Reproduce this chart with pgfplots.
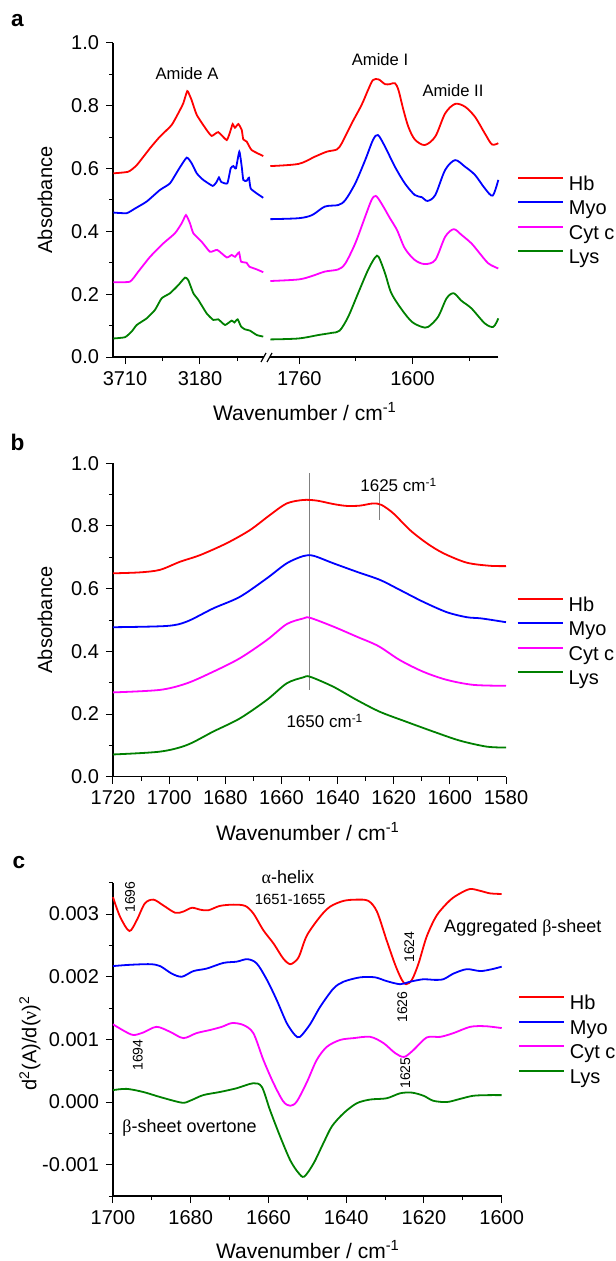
\documentclass[border=0pt]{standalone}
\usepackage{fontspec}
\setmainfont{Liberation Sans}
\newfontfamily\grk{Liberation Serif}
\usepackage{pgfplots}
\pgfplotsset{compat=1.18}
\definecolor{cHb}{RGB}{255,0,0}
\definecolor{cMyo}{RGB}{0,0,255}
\definecolor{cCyt}{RGB}{255,0,255}
\definecolor{cLys}{RGB}{0,128,0}
\newcommand{\fs}[1]{\fontsize{#1}{#1}\selectfont}
\pgfplotsset{
  myax/.style={
    scale only axis, clip=false,
    tick align=outside,
    major tick length=3.5pt, minor tick length=2pt,
    every tick/.style={black, line width=0.5pt},
    axis line style={-, black, line width=0.6pt},
    tick label style={font=\fs{10}},
    /pgf/number format/assume math mode=true,
    every axis plot/.append style={line width=0.9pt},
  },
  myleg/.style={
    legend style={draw=none, fill=none, font=\fs{10}, inner sep=0pt, outer sep=0pt,
      row sep=3.05pt, nodes={inner sep=0pt, text height=7.2pt, text depth=2pt},
      at={#1}, anchor=north west},
    legend cell align=left,
    legend image code/.code={\draw[##1, line width=1pt] (0pt,3.6pt) -- (22.5pt,3.6pt); \path (25pt,3.6pt);},
  },
}
\begin{document}
\begin{tikzpicture}
\useasboundingbox (0,0) rectangle (307.5pt,-630.5pt);
% ---------------- panel a, left segment ----------------
\begin{axis}[myax, at={(56.5pt,-178.5pt)}, anchor=south west,
  width=75.5pt, height=157pt,
  xmin=2727.7, xmax=3794.8, x dir=reverse, ymin=0, ymax=1,
  axis x line*=bottom, axis y line*=left,
  xtick={3710,3180}, minor xtick={3445,2915},
  ytick={0,0.2,0.4,0.6,0.8,1}, minor ytick={0.1,0.3,0.5,0.7,0.9},
  yticklabel style={/pgf/number format/fixed, /pgf/number format/fixed zerofill, /pgf/number format/precision=1},
  xticklabel style={/pgf/number format/1000 sep={}},
]
\addplot[cHb, smooth, tension=0.3] coordinates {(3792,0.585) (3687,0.590) (3627,0.611) (3533,0.665) (3463,0.702) (3380,0.739) (3321,0.787) (3298,0.808) (3270,0.847) (3251,0.831) (3239,0.818) (3203,0.771) (3133,0.723) (3097,0.704) (3051,0.716) (2991,0.691) (2963,0.723) (2949,0.742) (2933,0.730) (2909,0.742) (2885,0.723) (2874,0.693) (2850,0.686) (2815,0.659) (2733,0.640)};
\addplot[cMyo, smooth, tension=0.3] coordinates {(3792,0.460) (3698,0.458) (3639,0.473) (3557,0.495) (3463,0.532) (3392,0.553) (3333,0.596) (3274,0.635) (3239,0.617) (3203,0.585) (3157,0.564) (3090,0.545) (3062,0.558) (3046,0.572) (3031,0.558) (2987,0.553) (2963,0.601) (2944,0.608) (2926,0.601) (2902,0.654) (2885,0.606) (2874,0.564) (2850,0.561) (2834,0.571) (2822,0.537) (2779,0.521) (2733,0.507)};
\addplot[cCyt, smooth, tension=0.3] coordinates {(3792,0.238) (3675,0.240) (3616,0.272) (3533,0.319) (3439,0.362) (3357,0.394) (3309,0.426) (3279,0.452) (3251,0.426) (3227,0.394) (3168,0.367) (3109,0.335) (3058,0.341) (2991,0.317) (2956,0.325) (2933,0.319) (2904,0.333) (2890,0.304) (2850,0.300) (2832,0.288) (2779,0.279) (2733,0.270)};
\addplot[cLys, smooth, tension=0.3] coordinates {(3792,0.059) (3710,0.063) (3663,0.081) (3627,0.102) (3557,0.123) (3498,0.150) (3451,0.187) (3392,0.203) (3333,0.229) (3286,0.253) (3263,0.245) (3227,0.203) (3192,0.182) (3133,0.139) (3086,0.118) (3051,0.120) (3003,0.102) (2956,0.116) (2937,0.110) (2914,0.120) (2890,0.097) (2862,0.088) (2827,0.084) (2779,0.070) (2733,0.065)};
\node[font=\fs{8.3}] at (axis cs:3272,0.904) {Amide A};
\end{axis}
% ---------------- panel a, right segment ----------------
\begin{axis}[myax, at={(135pt,-178.5pt)}, anchor=south west,
  width=114.15pt, height=157pt,
  xmin=1479, xmax=1801.4, x dir=reverse, ymin=0, ymax=1,
  axis x line*=bottom, axis y line=none, ytick=\empty,
  xtick={1760,1600}, minor xtick={1680,1520},
  xticklabel style={/pgf/number format/1000 sep={}},
  myleg={(1.0819,0.577)},
]
\addplot[cHb, smooth] coordinates {(1801,0.608) (1761,0.615) (1738,0.638) (1721,0.654) (1707,0.661) (1700,0.681) (1686,0.744) (1672,0.803) (1663,0.850) (1656,0.882) (1648,0.884) (1639,0.869) (1632,0.869) (1625,0.872) (1620,0.850) (1613,0.787) (1606,0.733) (1597,0.693) (1583,0.675) (1568,0.702) (1554,0.776) (1540,0.806) (1526,0.797) (1512,0.765) (1498,0.712) (1488,0.677) (1479,0.681)};
\addlegendentry{Hb}
\addplot[cMyo, smooth] coordinates {(1801,0.439) (1761,0.442) (1742,0.452) (1724,0.479) (1705,0.484) (1695,0.500) (1681,0.553) (1667,0.627) (1656,0.691) (1649,0.707) (1639,0.670) (1625,0.606) (1611,0.553) (1597,0.516) (1587,0.509) (1579,0.497) (1568,0.516) (1554,0.596) (1540,0.627) (1526,0.606) (1512,0.580) (1498,0.537) (1487,0.514) (1479,0.564)};
\addlegendentry{Myo}
\addplot[cCyt, smooth] coordinates {(1801,0.242) (1761,0.247) (1742,0.258) (1724,0.272) (1705,0.279) (1695,0.298) (1681,0.362) (1667,0.447) (1658,0.500) (1652,0.513) (1644,0.489) (1632,0.442) (1622,0.404) (1611,0.346) (1597,0.309) (1583,0.296) (1568,0.309) (1554,0.383) (1542,0.407) (1531,0.389) (1517,0.362) (1507,0.335) (1493,0.298) (1479,0.282)};
\addlegendentry{Cyt c}
\addplot[cLys, smooth] coordinates {(1801,0.056) (1761,0.059) (1733,0.070) (1714,0.077) (1703,0.084) (1691,0.128) (1677,0.203) (1663,0.277) (1653,0.317) (1648,0.319) (1639,0.267) (1630,0.203) (1615,0.150) (1601,0.112) (1587,0.096) (1578,0.096) (1564,0.128) (1552,0.187) (1542,0.203) (1531,0.179) (1517,0.155) (1498,0.107) (1486,0.096) (1479,0.123)};
\addlegendentry{Lys}
\node[font=\fs{8.3}] at (axis cs:1646,0.946) {Amide I};
\node[font=\fs{8.3}] at (axis cs:1543,0.847) {Amide II};
\end{axis}
% axis break marks
\draw[line width=0.6pt] (130.5pt,-181pt) -- (133pt,-176.5pt);
\draw[line width=0.6pt] (133.5pt,-181pt) -- (136pt,-176.5pt);
% ---------------- panel b ----------------
\begin{axis}[myax, at={(56.5pt,-388.35pt)}, anchor=south west,
  width=196.5pt, height=156.7pt,
  xmin=1580, xmax=1720, x dir=reverse, ymin=0, ymax=1,
  axis x line*=bottom, axis y line*=left,
  xtick={1580,1600,...,1720}, minor xtick={1590,1610,...,1710},
  ytick={0,0.2,0.4,0.6,0.8,1}, minor ytick={0.1,0.3,0.5,0.7,0.9},
  yticklabel style={/pgf/number format/fixed, /pgf/number format/fixed zerofill, /pgf/number format/precision=1},
  xticklabel style={/pgf/number format/1000 sep={}},
  myleg={(1.0272,0.574)},
]
\addplot[gray, line width=0.5pt, forget plot] coordinates {(1650,0.969) (1650,0.277)};
\addplot[gray, line width=0.5pt, forget plot] coordinates {(1625,0.909) (1625,0.819)};
\addplot[cHb, smooth] coordinates {(1720,0.649) (1710.4,0.652) (1703.3,0.660) (1696.1,0.686) (1689,0.707) (1679.5,0.745) (1671.2,0.787) (1664.1,0.835) (1658.1,0.872) (1652.2,0.883) (1647.4,0.881) (1641.5,0.870) (1636.7,0.864) (1632,0.865) (1627.3,0.872) (1624.3,0.867) (1620.1,0.840) (1614.2,0.787) (1608.2,0.745) (1602.3,0.713) (1594,0.683) (1585.7,0.673) (1580,0.672)};
\addlegendentry{Hb}
\addplot[cMyo, smooth] coordinates {(1720,0.477) (1700.9,0.481) (1693.7,0.495) (1684.3,0.537) (1674.8,0.574) (1665.2,0.633) (1658.1,0.681) (1652.2,0.704) (1648.6,0.705) (1641.5,0.681) (1633.2,0.654) (1624.9,0.628) (1617.8,0.596) (1609.5,0.558) (1601.1,0.525) (1594,0.509) (1588.7,0.505) (1580,0.493)};
\addlegendentry{Myo}
\addplot[cCyt, smooth] coordinates {(1720,0.269) (1703.3,0.277) (1693.7,0.298) (1684.3,0.335) (1674.8,0.378) (1665.2,0.436) (1658.1,0.487) (1652.2,0.505) (1649.8,0.507) (1641.5,0.479) (1633.2,0.447) (1625.5,0.417) (1617.8,0.372) (1609.5,0.335) (1601.1,0.309) (1591.6,0.293) (1580,0.290)};
\addlegendentry{Cyt c}
\addplot[cLys, smooth] coordinates {(1720,0.071) (1703.3,0.080) (1693.7,0.101) (1684.3,0.144) (1674.8,0.186) (1665.2,0.245) (1658.1,0.298) (1652.2,0.317) (1649.8,0.319) (1641.5,0.287) (1633.2,0.245) (1624.9,0.207) (1615.4,0.175) (1605.9,0.144) (1596.4,0.115) (1586.9,0.096) (1580,0.093)};
\addlegendentry{Lys}
\node[font=\fs{8.5}] at (axis cs:1618.2,0.931) {1625 cm\textsuperscript{-1}};
\node[font=\fs{8.5}] at (axis cs:1644.5,0.178) {1650 cm\textsuperscript{-1}};
\end{axis}
% ---------------- panel c ----------------
\begin{axis}[myax, at={(56.5pt,-598pt)}, anchor=south west,
  width=194.35pt, height=156.65pt,
  xmin=1600, xmax=1700, x dir=reverse, ymin=-0.0015, ymax=0.0035,
  axis x line*=bottom, axis y line*=left,
  xtick={1600,1620,...,1700}, minor xtick={1610,1630,...,1690},
  ytick={-0.001,0,0.001,0.002,0.003}, minor ytick={-0.0015,-0.0005,0.0005,0.0015,0.0025,0.0035},
  scaled y ticks=false,
  yticklabel style={/pgf/number format/fixed, /pgf/number format/fixed zerofill, /pgf/number format/precision=3},
  xticklabel style={/pgf/number format/1000 sep={}},
  myleg={(1.042,0.641)},
]
\addplot[cHb, smooth] coordinates {(1700,0.00327) (1698.2,0.00296) (1695.8,0.00273) (1693.9,0.00290) (1691.8,0.00317) (1689.6,0.00323) (1687.1,0.00314) (1684.0,0.00302) (1681.9,0.00304) (1679.7,0.00310) (1677.6,0.00307) (1675.5,0.00306) (1672.5,0.00313) (1669.0,0.00315) (1666.0,0.00313) (1663.9,0.00301) (1661.3,0.00274) (1658.7,0.00253) (1656.2,0.00229) (1654.4,0.00220) (1652.7,0.00227) (1651.9,0.00236) (1650.1,0.00266) (1646.7,0.00296) (1644.1,0.00312) (1640.7,0.00321) (1637.3,0.00323) (1634.3,0.00321) (1632.1,0.00304) (1629.6,0.00258) (1627.4,0.00219) (1625.7,0.00195) (1624.6,0.00188) (1623.1,0.00195) (1621.4,0.00221) (1619.3,0.00264) (1616.7,0.00298) (1613.3,0.00322) (1610.7,0.00333) (1608.1,0.00340) (1605.5,0.00337) (1603.0,0.00333) (1600,0.00332)};
\addlegendentry{Hb}
\addplot[cMyo, smooth] coordinates {(1700,0.00217) (1695.6,0.00219) (1690.5,0.00220) (1687.9,0.00217) (1684.9,0.00205) (1682.3,0.00200) (1679.3,0.00209) (1675.9,0.00213) (1671.6,0.00222) (1668.2,0.00224) (1665.4,0.00228) (1663.0,0.00221) (1660.4,0.00195) (1657.9,0.00163) (1655.3,0.00126) (1653.2,0.00107) (1651.9,0.00104) (1649.3,0.00124) (1646.7,0.00152) (1643.3,0.00181) (1640.7,0.00192) (1636.4,0.00199) (1632.6,0.00199) (1629.6,0.00193) (1626.1,0.00188) (1623.6,0.00192) (1620.1,0.00196) (1617.6,0.00195) (1615.0,0.00196) (1612.4,0.00205) (1609.0,0.00212) (1605.5,0.00209) (1602.5,0.00212) (1600,0.00216)};
\addlegendentry{Myo}
\addplot[cCyt, smooth] coordinates {(1700,0.00124) (1697.3,0.00114) (1694.8,0.00107) (1692.2,0.00111) (1688.8,0.00120) (1685.3,0.00112) (1681.9,0.00102) (1678.5,0.00110) (1675.0,0.00115) (1672.0,0.00120) (1669.4,0.00126) (1666.5,0.00123) (1663.9,0.00110) (1661.3,0.00067) (1658.7,0.00030) (1656.2,0.00001) (1654.4,-0.00006) (1652.7,0.00001) (1650.1,0.00032) (1647.6,0.00067) (1645.0,0.00088) (1641.6,0.00099) (1638.1,0.00102) (1633.8,0.00104) (1630.4,0.00094) (1627.4,0.00078) (1625.1,0.00072) (1622.7,0.00083) (1619.3,0.00103) (1615.8,0.00104) (1612.4,0.00110) (1608.1,0.00120) (1604.2,0.00121) (1600,0.00118)};
\addlegendentry{Cyt c}
\addplot[cLys, smooth] coordinates {(1700,0.00019) (1696.5,0.00021) (1692.2,0.00016) (1687.9,0.00008) (1682.3,-0.00001) (1680.2,0.00002) (1676.8,0.00011) (1672.5,0.00016) (1668.2,0.00022) (1663.9,0.00030) (1661.7,0.00024) (1659.6,-0.00013) (1657.0,-0.00055) (1654.4,-0.00093) (1652.3,-0.00113) (1650.8,-0.00119) (1648.4,-0.00098) (1645.9,-0.00066) (1643.7,-0.00039) (1640.7,-0.00018) (1637.3,-0.00002) (1633.8,0.00004) (1629.6,0.00006) (1626.1,0.00014) (1623.1,0.00015) (1620.1,0.00010) (1617.6,0.00002) (1614.1,0.00000) (1610.7,0.00005) (1607.3,0.00010) (1603.4,0.00011) (1600,0.00011)};
\addlegendentry{Lys}
\node[font=\fs{9}] at (axis cs:1655.0,0.003589) {{\grk α}-helix};
\node[font=\fs{7.4}] at (axis cs:1654.4,0.003238) {1651-1655};
\node[font=\fs{9}, anchor=west] at (axis cs:1616.6,0.002775) {Aggregated {\grk β}-sheet};
\node[font=\fs{7}, rotate=90] at (axis cs:1695.6,0.00327) {1696};
\node[font=\fs{7}, rotate=90] at (axis cs:1693.6,0.00075) {1694};
\node[font=\fs{7}, rotate=90] at (axis cs:1623.8,0.002472) {1624};
\node[font=\fs{7}, rotate=90] at (axis cs:1625.6,0.001515) {1626};
\node[font=\fs{7}, rotate=90] at (axis cs:1624.8,0.000463) {1625};
\node[font=\fs{9}] at (axis cs:1680.3,-0.000415) {{\grk β}-sheet overtone};
\end{axis}
% ---------------- labels ----------------
\node[font=\bfseries\fs{11.3}, anchor=base] at (8.75pt,-13.35pt) {a};
\node[font=\bfseries\fs{11.3}, anchor=base] at (8.75pt,-225pt) {b};
\node[font=\bfseries\fs{11.3}, anchor=base] at (9.5pt,-434.2pt) {c};
\node[font=\fs{10}, rotate=90] at (22.5pt,-100pt) {Absorbance};
\node[font=\fs{10}, rotate=90] at (22.5pt,-310pt) {Absorbance};
\node[font=\fs{10}, rotate=90] at (15pt,-521.5pt) {d\textsuperscript{2}(A)/d({\grk ν})\textsuperscript{2}};
\node[font=\fs{10.5}, anchor=base] at (152.5pt,-210pt) {Wavenumber / cm\textsuperscript{-1}};
\node[font=\fs{10.5}, anchor=base] at (154pt,-420pt) {Wavenumber / cm\textsuperscript{-1}};
\node[font=\fs{10.5}, anchor=base] at (154pt,-629pt) {Wavenumber / cm\textsuperscript{-1}};
\end{tikzpicture}
\end{document}
